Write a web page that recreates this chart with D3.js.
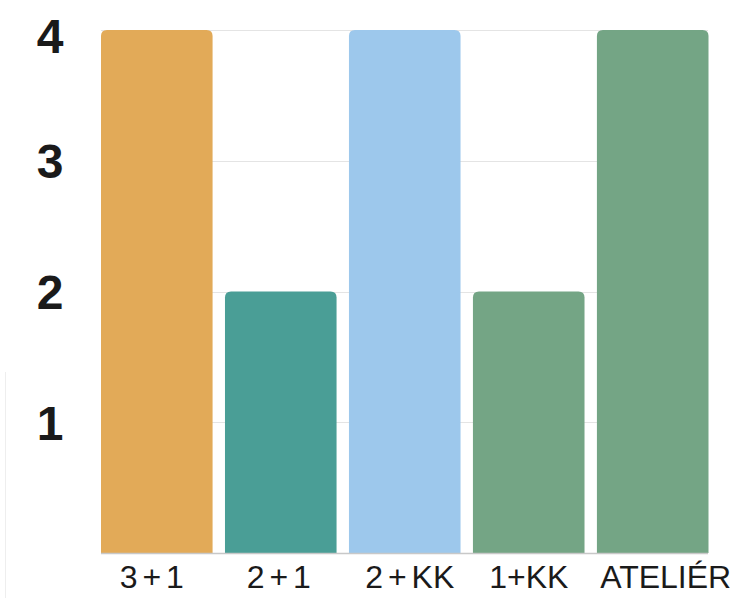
<!DOCTYPE html>
<html>
<head>
<meta charset="utf-8">
<script src="https://cdn.jsdelivr.net/npm/d3@7"></script>
<style>
  body { margin: 0; background: #fff; }
  svg { display: block; }
</style>
</head>
<body>
<div id="graph"></div>
<script>
var categories = ['3 + 1', '2 + 1', '2 + KK', '1+KK', 'ATELIÉR']
var values = [4, 2, 4, 2, 4]
var colors = ['#e2aa58', '#4a9e96', '#9dc8ec', '#74a585', '#74a585']
var yTicks = [1, 2, 3, 4]

var width = 737, height = 598
var margin = {top: 30, right: 29, bottom: 45, left: 101}

var svg = d3.select('#graph').append('svg')
  .attr('width', width)
  .attr('height', height)

var x = d3.scaleBand()
  .domain(categories)
  .range([margin.left, width - margin.right + 0.5])
  .paddingInner(0.1)
  .paddingOuter(0)

var y = d3.scaleLinear()
  .domain([0, 4])
  .range([height - margin.bottom, margin.top])

// faint edge line on the left
svg.append('line')
  .attr('x1', 5.5).attr('x2', 5.5)
  .attr('y1', 372).attr('y2', height)
  .attr('stroke', '#eeeeee')

// grid
svg.append('g')
  .selectAll('line')
  .data(yTicks)
  .join('line')
  .attr('x1', margin.left)
  .attr('x2', width - margin.right)
  .attr('y1', d => Math.round(y(d)) + 0.5)
  .attr('y2', d => Math.round(y(d)) + 0.5)
  .attr('stroke', '#e4e4e4')

// bars with rounded tops
var r = 6
svg.append('g')
  .selectAll('path')
  .data(values)
  .join('path')
  .attr('fill', (d, i) => colors[i])
  .attr('d', (d, i) => {
    var x0 = x(categories[i]), x1 = x0 + x.bandwidth()
    var y0 = y(0), y1 = y(d)
    return `M${x0},${y0}V${y1 + r}Q${x0},${y1} ${x0 + r},${y1}H${x1 - r}Q${x1},${y1} ${x1},${y1 + r}V${y0}Z`
  })

// baseline
svg.append('line')
  .attr('x1', margin.left)
  .attr('x2', width - margin.right)
  .attr('y1', y(0) + 0.5)
  .attr('y2', y(0) + 0.5)
  .attr('stroke', '#c8c8c8')
  .attr('stroke-width', 1.5)

// y labels
svg.append('g')
  .selectAll('text')
  .data(yTicks)
  .join('text')
  .attr('x', 50)
  .attr('y', d => Math.max(y(d), 36))
  .attr('dy', '0.36em')
  .attr('text-anchor', 'middle')
  .attr('font-family', 'Liberation Sans, Arial, sans-serif')
  .attr('font-weight', 'bold')
  .attr('font-size', 48)
  .attr('fill', '#1a1a1a')
  .text(d => d)

// x labels (slightly nudged like the original)
var nudge = [-5, -2, 5, 0, 13]
svg.append('g')
  .selectAll('text')
  .data(categories)
  .join('text')
  .attr('x', (d, i) => x(d) + x.bandwidth() / 2 + nudge[i])
  .attr('y', 588)
  .attr('text-anchor', 'middle')
  .attr('font-family', 'Liberation Sans, Arial, sans-serif')
  .attr('font-size', 32)
  .attr('word-spacing', -4)
  .attr('fill', '#1a1a1a')
  .text(d => d)
</script>
</body>
</html>
